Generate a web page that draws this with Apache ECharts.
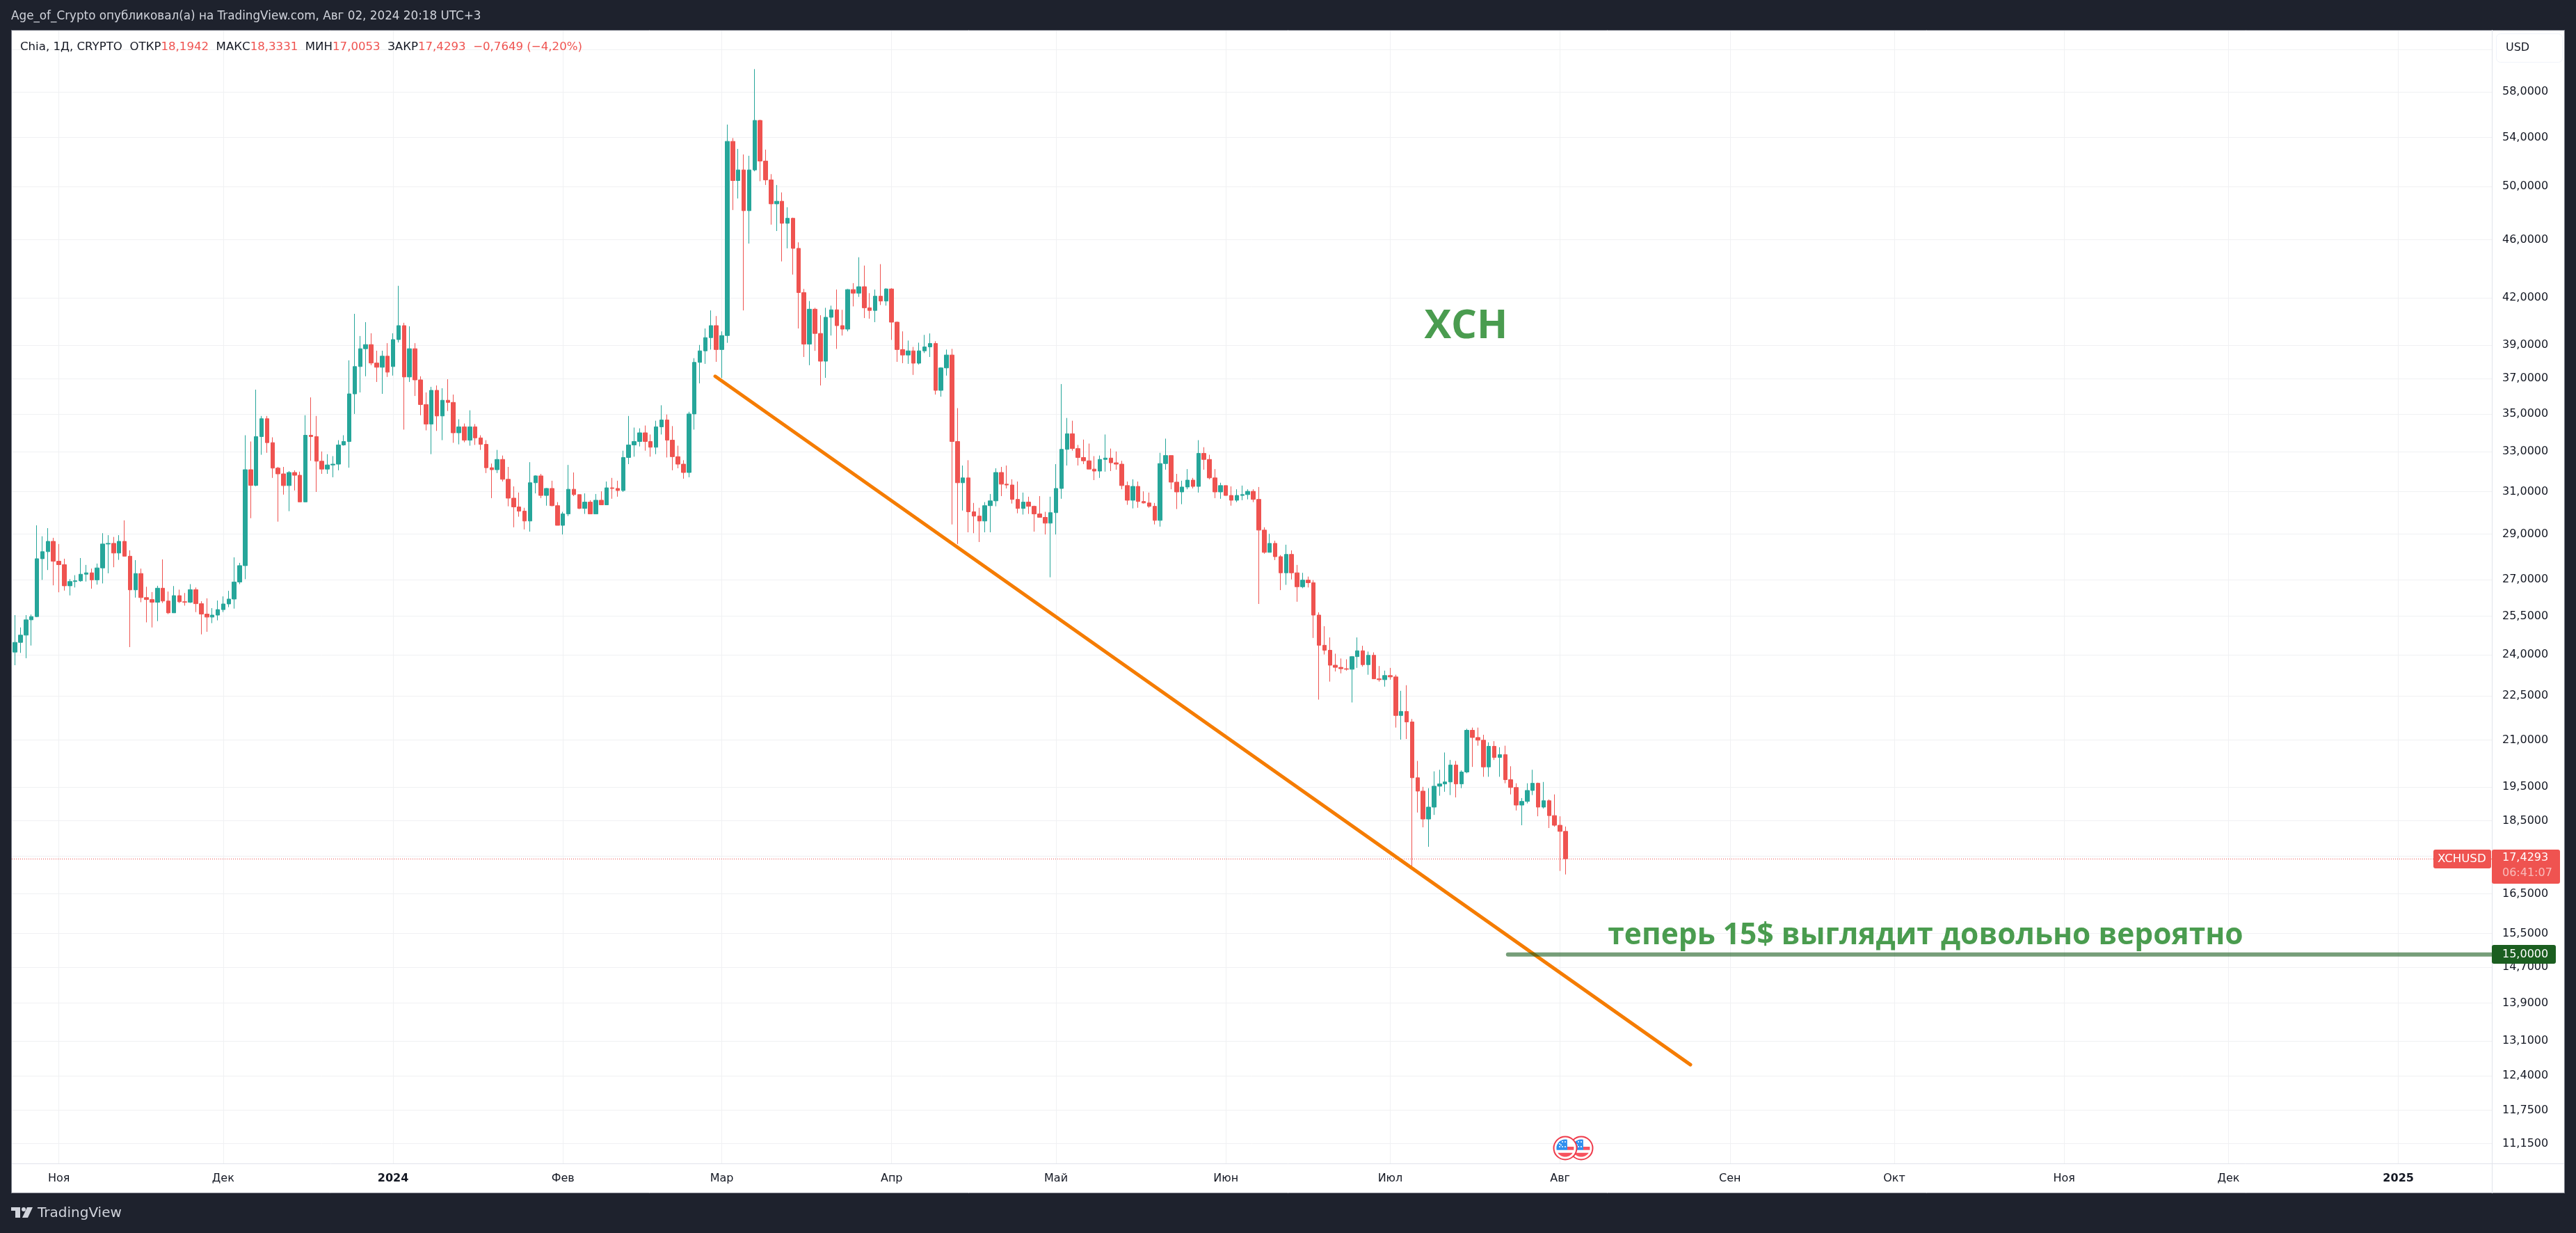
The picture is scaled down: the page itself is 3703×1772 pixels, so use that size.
<!DOCTYPE html>
<html><head><meta charset="utf-8">
<style>html,body{margin:0;padding:0;background:#1e222d;overflow:hidden}#c{width:3703px;height:1772px}</style>
<script src="https://cdn.jsdelivr.net/npm/echarts@6/dist/echarts.min.js"></script>
</head><body><div id="c"></div>
<script>
const firstDay = '2023-10-23';
const opens = [
23.46,24.10,24.47,24.75,25.35,25.48,27.90,28.21,28.67,27.79,
27.64,26.74,26.92,26.95,27.23,27.29,26.99,27.50,28.55,28.58,
28.15,28.67,28.01,26.57,27.26,26.25,26.17,26.06,26.64,26.11,
25.63,26.33,26.08,26.06,26.58,26.00,25.58,25.46,25.54,25.76,
25.99,26.19,26.90,27.60,32.08,31.30,33.79,34.75,33.47,32.16,
31.87,31.29,31.94,31.80,30.50,33.86,33.79,32.51,32.11,32.32,
32.36,33.35,33.53,36.13,37.71,38.78,39.03,37.92,37.67,38.33,
37.71,39.34,40.21,37.10,38.78,36.93,35.53,34.46,36.33,34.90,
35.77,35.65,33.99,34.31,33.60,34.31,33.72,33.38,32.18,32.08,
32.60,31.60,30.68,30.26,30.06,29.60,31.43,31.77,30.81,31.15,
30.32,29.40,29.93,31.11,30.85,30.19,30.49,29.93,30.58,30.36,
31.18,31.15,31.05,32.70,33.35,33.53,33.99,33.53,33.23,34.31,
34.68,33.60,32.74,32.36,31.94,35.01,37.96,38.65,39.46,40.21,
38.73,39.59,53.68,50.48,51.33,48.15,51.33,55.47,52.05,50.53,
48.67,48.87,47.21,47.58,45.39,42.35,39.06,41.26,39.72,38.03,
40.74,41.22,40.21,39.99,42.55,42.31,42.74,41.35,41.18,42.11,
41.79,42.59,40.43,38.73,38.40,38.65,37.91,38.65,38.89,39.10,
36.33,37.63,38.40,33.53,31.43,31.67,30.03,29.83,29.60,30.32,
30.55,31.94,31.36,31.32,30.62,30.19,30.49,30.29,29.93,29.77,
29.50,29.99,31.15,33.12,33.94,33.16,32.70,32.53,32.11,32.01,
32.60,32.67,32.43,32.36,31.29,30.58,31.25,30.52,30.45,30.29,
29.63,32.39,32.80,31.46,30.98,31.22,31.56,31.25,32.91,32.60,
31.67,30.98,31.29,30.81,30.58,30.81,30.85,31.01,30.62,29.18,
28.18,28.58,27.99,27.29,28.09,27.29,26.70,26.98,26.87,25.54,
24.36,24.17,23.61,23.53,23.48,23.46,23.93,24.15,23.63,23.98,
23.11,23.08,23.23,23.18,21.82,21.96,21.60,19.79,19.38,18.55,
18.90,19.53,19.60,19.66,20.19,19.60,19.97,21.32,21.08,20.99,
20.13,20.79,20.43,20.52,19.73,19.49,18.96,19.07,19.40,19.62,
18.90,19.09,18.65,18.37,18.1942];
const closes = [
24.10,24.47,24.75,25.35,25.48,27.90,28.21,28.67,27.79,27.64,
26.74,26.92,26.95,27.23,27.29,26.99,27.50,28.55,28.58,28.15,
28.67,28.01,26.57,27.26,26.25,26.17,26.06,26.64,26.11,25.63,
26.33,26.08,26.06,26.58,26.00,25.58,25.46,25.54,25.76,25.99,
26.19,26.90,27.60,32.08,31.30,33.79,34.75,33.47,32.16,31.87,
31.29,31.94,31.80,30.50,33.86,33.79,32.51,32.11,32.32,32.36,
33.35,33.53,36.13,37.71,38.78,39.03,37.92,37.67,38.33,37.38,
39.34,40.21,37.10,38.78,36.93,35.53,34.46,36.33,34.90,35.77,
35.65,33.99,34.31,33.60,34.31,33.72,33.38,32.18,32.08,32.60,
31.60,30.68,30.26,30.06,29.60,31.43,31.77,30.81,31.15,30.32,
29.40,29.93,31.11,30.85,30.19,30.49,29.93,30.58,30.36,31.18,
31.15,31.05,32.70,33.35,33.53,33.99,33.53,33.23,34.31,34.68,
33.60,32.74,32.36,31.94,35.01,37.96,38.65,39.46,40.21,38.73,
39.59,53.68,50.48,51.33,48.15,51.33,55.47,52.05,50.53,48.67,
48.87,47.21,47.58,45.39,42.35,39.06,41.26,39.72,38.03,40.74,
41.22,40.21,39.99,42.55,42.31,42.74,41.35,41.18,42.11,41.79,
42.59,40.43,38.73,38.40,38.65,37.91,38.65,38.89,39.10,36.33,
37.63,38.40,33.53,31.43,31.67,30.03,29.83,29.60,30.32,30.55,
31.94,31.36,31.32,30.62,30.19,30.49,30.29,29.93,29.77,29.50,
29.99,31.15,33.12,33.94,33.16,32.70,32.53,32.11,32.01,32.60,
32.67,32.43,32.36,31.29,30.58,31.25,30.52,30.45,30.29,29.63,
32.39,32.80,31.46,30.98,31.22,31.56,31.25,32.91,32.60,31.67,
30.98,31.29,30.81,30.58,30.81,30.85,31.01,30.62,29.18,28.18,
28.58,27.99,27.29,28.09,27.29,26.70,26.98,26.87,25.54,24.36,
24.17,23.61,23.53,23.48,23.46,23.93,24.15,23.63,23.98,23.11,
23.08,23.23,23.18,21.82,21.96,21.60,19.79,19.38,18.55,18.90,
19.53,19.60,19.66,20.19,19.60,19.97,21.32,21.08,20.99,20.13,
20.79,20.43,20.52,19.73,19.49,18.96,19.07,19.40,19.62,18.90,
19.09,18.65,18.37,18.1942,17.4293];
const highs = [
24.20,25.54,25.05,25.54,25.56,29.40,28.90,29.27,28.83,28.55,
27.90,27.02,27.19,27.93,27.63,27.47,27.69,29.04,28.95,28.87,
28.95,29.63,28.27,27.84,27.47,26.70,26.48,26.74,27.87,26.50,
26.73,26.58,26.44,26.81,26.67,26.10,26.22,25.82,26.13,26.30,
26.53,27.96,27.72,33.86,33.53,36.37,34.90,34.90,33.75,32.22,
32.22,32.01,32.05,31.98,34.94,35.93,34.90,33.01,32.87,32.77,
33.60,33.86,38.08,40.96,39.56,40.43,39.73,38.66,38.66,39.12,
39.73,42.80,40.39,40.17,39.12,37.14,36.21,36.53,36.61,36.45,
36.97,36.09,34.72,34.49,35.21,34.46,33.86,33.60,32.39,33.09,
32.80,32.22,31.25,30.95,30.22,32.46,31.80,31.87,31.17,31.53,
30.49,30.03,32.32,31.94,30.85,30.91,30.58,30.88,31.01,31.49,
31.67,31.53,33.05,34.90,34.27,34.23,34.38,33.90,34.64,35.49,
34.98,34.35,33.31,32.56,35.13,38.21,39.01,40.03,41.18,40.82,
39.85,55.11,53.96,53.05,52.59,52.48,60.12,55.53,52.99,50.99,
50.13,49.55,48.41,47.63,45.82,42.59,41.79,41.35,40.87,41.35,
41.49,42.55,41.22,42.59,42.98,44.76,44.18,42.31,42.55,44.28,
42.64,42.64,40.47,39.85,39.28,38.89,39.15,39.63,39.72,39.24,
37.67,38.73,38.77,35.33,32.29,32.56,30.45,30.22,30.49,30.88,
32.15,32.22,32.29,31.60,31.49,30.95,30.75,30.32,30.78,30.03,
30.75,32.36,36.69,34.79,34.64,33.35,33.63,33.42,32.77,32.80,
33.90,33.16,33.01,32.53,31.49,31.60,31.49,31.01,30.95,30.45,
32.94,33.68,32.80,31.87,31.53,32.11,31.67,33.60,33.23,32.84,
32.11,31.43,31.29,31.25,31.11,31.29,31.11,31.11,31.22,29.31,
29.01,28.70,28.06,28.52,28.27,27.63,27.29,27.13,26.98,25.65,
25.10,24.66,24.04,23.86,23.83,23.95,24.66,24.34,24.12,24.09,
23.58,23.41,23.51,23.26,22.68,22.88,21.70,20.32,19.51,19.47,
19.99,20.04,20.59,20.35,20.32,20.02,21.37,21.41,21.41,21.17,
20.92,20.96,20.76,20.81,20.15,19.62,19.17,19.62,20.04,19.64,
19.66,19.13,19.28,18.63,18.3331];
const lows = [
23.46,23.61,24.07,23.87,24.35,25.46,26.99,27.41,26.76,26.47,
26.54,26.34,26.67,26.91,26.92,26.62,26.79,26.84,27.27,27.53,
27.85,28.01,24.29,26.25,26.06,25.25,25.05,25.30,26.03,25.58,
25.63,26.03,25.92,26.03,25.66,24.78,24.88,25.22,25.33,25.66,
25.86,25.80,26.81,27.02,29.73,31.26,32.84,32.94,31.67,29.57,
30.85,30.06,31.05,30.50,30.49,32.53,30.98,31.87,31.87,31.70,
32.05,33.31,32.18,35.01,36.21,37.14,37.79,36.81,36.13,37.10,
37.18,39.16,34.16,36.81,36.01,34.94,34.12,32.87,34.09,33.60,
35.17,33.46,33.38,33.49,33.31,33.35,33.09,31.91,30.68,31.91,
31.49,30.29,29.31,29.80,29.21,29.11,30.91,30.68,30.32,30.29,
29.40,28.98,29.83,30.78,30.16,29.93,29.93,29.93,30.36,30.39,
30.65,30.75,30.98,32.36,32.74,33.27,33.05,32.74,32.87,33.90,
32.70,32.05,32.15,31.63,31.70,34.16,36.73,37.87,38.73,37.99,
37.04,39.14,48.20,49.08,41.18,45.73,51.22,50.43,50.13,47.11,
46.64,44.47,45.39,43.56,40.03,38.28,37.79,38.65,36.61,37.05,
39.59,38.77,39.59,39.85,41.44,42.06,40.69,40.65,40.43,41.53,
41.49,39.32,37.99,37.91,37.87,37.22,37.83,38.52,38.28,36.09,
35.97,37.18,29.44,28.55,30.09,29.08,29.04,28.64,29.08,29.08,
30.29,30.78,31.15,30.42,29.96,29.90,29.93,29.11,29.77,28.98,
27.10,28.98,30.65,32.29,33.05,32.29,32.36,32.11,31.56,31.67,
31.98,32.01,32.08,31.11,30.36,30.19,30.22,30.42,30.22,29.44,
29.34,32.08,31.11,30.16,30.39,31.11,31.15,30.95,32.08,31.60,
30.68,30.65,30.81,30.32,30.49,30.58,30.62,30.49,25.99,28.12,
28.18,27.84,26.56,26.78,27.01,26.08,26.64,26.67,24.64,22.37,
24.01,23.01,23.38,23.31,23.41,22.27,23.51,23.56,23.26,23.11,
23.01,22.83,23.08,21.41,21.01,21.03,17.21,18.74,18.31,17.76,
18.67,19.24,19.36,19.26,19.19,19.47,19.93,20.13,20.81,19.82,
19.82,20.35,19.82,19.62,19.28,18.80,18.37,19.01,19.26,18.63,
18.86,18.29,18.33,17.10,17.0053];

const gridPrices = [62,58,54,50,46,42,39,37,35,33,31,29,27,25.5,24,22.5,21,19.5,18.5,17.5,16.5,15.5,14.7,13.9,13.1,12.4,11.75,11.15];
const labelPrices = [58,54,50,46,42,39,37,35,33,31,29,27,25.5,24,22.5,21,19.5,18.5,16.5,15.5,14.7,13.9,13.1,12.4,11.75,11.15];
const monthStarts = ['2023-11-01','2023-12-01','2024-01-01','2024-02-01','2024-03-01','2024-04-01','2024-05-01','2024-06-01','2024-07-01','2024-08-01','2024-09-01','2024-10-01','2024-11-01','2024-12-01','2025-01-01'];
const monthLabels = ['Ноя','Дек','2024','Фев','Мар','Апр','Май','Июн','Июл','Авг','Сен','Окт','Ноя','Дек','2025'];
const trendStart = ['2024-02-28T19:00:00Z',37.14], trendEnd = ['2024-08-24T19:00:00Z',12.62];
const levelStart = ['2024-07-22T12:00:00Z',15];
const lastClose = 17.4293;

const DAY = 86400000;
const ms = s => Date.parse(s);
const t0 = ms(firstDay + 'T00:00:00Z');
const novFirst = Date.UTC(2023,10,1);
const xMin = novFirst - 8.583*DAY, xMax = novFirst + 444.06*DAY;
const candles = closes.map((c,i)=>[t0+i*DAY, opens[i], c, lows[i], highs[i]]);
const monthTimes = monthStarts.map(s=>ms(s+'T00:00:00Z'));
const UP='#26a69a', DOWN='#ef5350', GRID='#f0f1f3', FONT='"DejaVu Sans"', NOTE='"Open Sans"';
const fmt = v => v.toFixed(4).replace('.',',');

function txt(x,y,text,size,fill,extra){return {type:'text',z:100,silent:true,style:Object.assign({x,y,text,fontFamily:FONT,fontSize:size,fill,verticalAlign:'middle'},extra||{})};}
function rect(x,y,w,h,fill,r,z,stroke){return {type:'rect',z:z==null?90:z,silent:true,shape:{x,y,width:w,height:h,r:r||0},style:{fill,stroke:stroke||null,lineWidth:stroke?1:0}};}
function flag(cx,cy){
  const R=12.6;
  const poly=(points,fill)=>({type:'polygon',z:96,silent:true,shape:{points},style:{fill}});
  const arc=(a0,a1)=>{const pts=[];for(let i=0;i<=14;i++){const a=(a0+(a1-a0)*i/14)*Math.PI/180;pts.push([cx+R*Math.cos(a),cy+R*Math.sin(a)]);}return pts;};
  const a7=Math.asin(6.7/R)*180/Math.PI;
  const a3=Math.asin(2.7/R)*180/Math.PI;
  const els=[
    {type:'circle',z:96,silent:true,shape:{cx,cy,r:16.5},style:{fill:'#fff',stroke:'#ef3a4a',lineWidth:2}},
    poly(arc(a7,180-a7),'#f7525f'),
    poly([[cx+3,cy-2],[cx+12.4,cy-2],[cx+12.4,cy+2.7],[cx+3,cy+2.7]],'#f7525f'),
    poly([[cx+3,cy+2.7],...arc(180-a3,283)],'#2f8fee'),
  ];
  [[-8,-6],[-4,-9],[0,-9],[-8,-2],[-4,-2],[0,-2],[-6,-4.5]].forEach(p=>els.push({type:'circle',z:96,silent:true,shape:{cx:cx+p[0],cy:cy+p[1],r:1},style:{fill:'#fff'}}));
  return els;
}

const graphics = [
  rect(16,43,3671,1672,'#ffffff',0,-5),
  {type:'line',z:-4,silent:true,shape:{x1:16,y1:43.5,x2:3687,y2:43.5},style:{stroke:'#787b86',lineWidth:1}},
  {type:'line',z:-4,silent:true,shape:{x1:16.5,y1:43,x2:16.5,y2:1715},style:{stroke:'#787b86',lineWidth:1}},
  {type:'line',z:-4,silent:true,shape:{x1:3686.5,y1:43,x2:3686.5,y2:1715},style:{stroke:'#787b86',lineWidth:1}},
  {type:'line',z:-4,silent:true,shape:{x1:16,y1:1714.5,x2:3687,y2:1714.5},style:{stroke:'#787b86',lineWidth:1}},
  {type:'line',z:80,silent:true,shape:{x1:3582.5,y1:43,x2:3582.5,y2:1715},style:{stroke:'#e0e3eb',lineWidth:1}},
  {type:'line',z:80,silent:true,shape:{x1:17,y1:1672.5,x2:3686,y2:1672.5},style:{stroke:'#e0e3eb',lineWidth:1}},
  txt(16,24,'Age_of_Crypto опубликовал(а) на TradingView.com, Авг 02, 2024 20:18 UTC+3',16.8,'#d1d4dc'),
  {type:'text',z:100,silent:true,style:{x:29,y:68,fontFamily:FONT,fontSize:16.6,verticalAlign:'middle',fill:'#131722',
    text:'{k|Chia, 1Д, CRYPTO  ОТКР}{v|18,1942}{k|  МАКС}{v|18,3331}{k|  МИН}{v|17,0053}{k|  ЗАКР}{v|17,4293}{v|  −0,7649 (−4,20%)}',
    rich:{k:{fontFamily:FONT,fontSize:16.6,fill:'#131722'},v:{fontFamily:FONT,fontSize:16.6,fill:'#ef5350'}}}},
  rect(3588.5,48.5,95,41,'#ffffff',6,90,'#f0f3fa'),
  txt(3602,69,'USD',16,'#131722'),
  rect(3498,1221,83,27,DOWN,3),
  txt(3504,1234.5,'XCHUSD',16.6,'#ffffff'),
  rect(3582,1221,98,49,DOWN,3),
  txt(3597,1233,'17,4293',16,'#ffffff'),
  txt(3597,1255,'06:41:07',16,'rgba(255,255,255,0.6)'),
  rect(3582,1358,92,27,'#1b5e20',3),
  txt(3597,1371.5,'15,0000',16,'#ffffff'),
  {type:'rect',z:100,silent:true,shape:{x:16,y:1735,width:13,height:5},style:{fill:'#d1d4dc'}},
  {type:'rect',z:100,silent:true,shape:{x:22,y:1735,width:7,height:15},style:{fill:'#d1d4dc'}},
  {type:'circle',z:100,silent:true,shape:{cx:34,cy:1738,r:3},style:{fill:'#d1d4dc'}},
  {type:'polygon',z:100,silent:true,shape:{points:[[39,1735],[47,1735],[40,1750],[32,1750]]},style:{fill:'#d1d4dc'}},
  txt(54,1744,'TradingView',20,'#d1d4dc'),
  ...flag(2273,1650),
  ...flag(2250,1650),
];

const chart = echarts.init(document.getElementById('c'),null,{renderer:'canvas'});
chart.setOption({
  animation:false,
  backgroundColor:'#1e222d',
  grid:{left:17,right:121,top:44,bottom:100,containLabel:false},
  xAxis:{type:'value',min:xMin,max:xMax,scale:true,
    axisLine:{show:false},
    axisTick:{show:false,customValues:monthTimes},
    splitLine:{show:true,lineStyle:{color:GRID,width:1}},
    axisLabel:{customValues:monthTimes,margin:14,color:'#131722',fontFamily:FONT,fontSize:16,hideOverlap:false,
      formatter:(v)=>{const l=monthLabels[monthTimes.indexOf(v)];return /^\d/.test(l)?`{b|${l}}`:l;},
      rich:{b:{fontFamily:FONT,fontSize:16,fontWeight:'bold',color:'#131722'}}}
  },
  yAxis:{type:'log',logBase:10,min:10.81,max:63.86,position:'right',
    axisLine:{show:false},
    axisTick:{show:false,customValues:gridPrices},
    splitLine:{show:true,lineStyle:{color:GRID,width:1}},
    minorTick:{show:false},minorSplitLine:{show:false},
    axisLabel:{customValues:labelPrices,margin:15,color:'#131722',fontFamily:FONT,fontSize:16,align:'left',formatter:v=>fmt(v)}
  },
  series:[
    {type:'candlestick',name:'XCHUSD',data:candles,barWidth:6,z:5,clip:true,
     itemStyle:{color:UP,color0:DOWN,borderColor:UP,borderColor0:DOWN,borderWidth:1},
     markLine:{silent:true,symbol:'none',animation:false,label:{show:false},
       lineStyle:{color:DOWN,width:1,type:[1,2]},data:[{yAxis:lastClose}]}},
    {type:'line',name:'trend',data:[[ms(trendStart[0]),trendStart[1]],[ms(trendEnd[0]),trendEnd[1]]],showSymbol:false,silent:true,z:6,
     lineStyle:{color:'#f57c00',width:5,cap:'round'}},
    {type:'line',name:'level',data:[[ms(levelStart[0]),levelStart[1]],[xMax,15]],showSymbol:false,silent:true,z:6,
     lineStyle:{color:'#1b5e20',width:6,opacity:0.6,cap:'round'}},
    {type:'scatter',name:'notes',silent:true,symbolSize:0,z:7,itemStyle:{opacity:1},
     data:[
       {value:[ms('2024-07-14T20:00:00Z'),40.14],label:{show:true,position:'inside',formatter:'XCH',fontFamily:NOTE,fontWeight:700,fontSize:58,color:'#4a9c4f',opacity:1}},
       {value:[ms('2024-10-06T17:00:00Z'),15.45],label:{show:true,position:'inside',formatter:'теперь 15$ выглядит довольно вероятно',fontFamily:NOTE,fontWeight:700,fontSize:42.5,color:'#4a9c4f',opacity:1}}
     ]}
  ],
  graphic:{elements:graphics}
});
</script></body></html>
